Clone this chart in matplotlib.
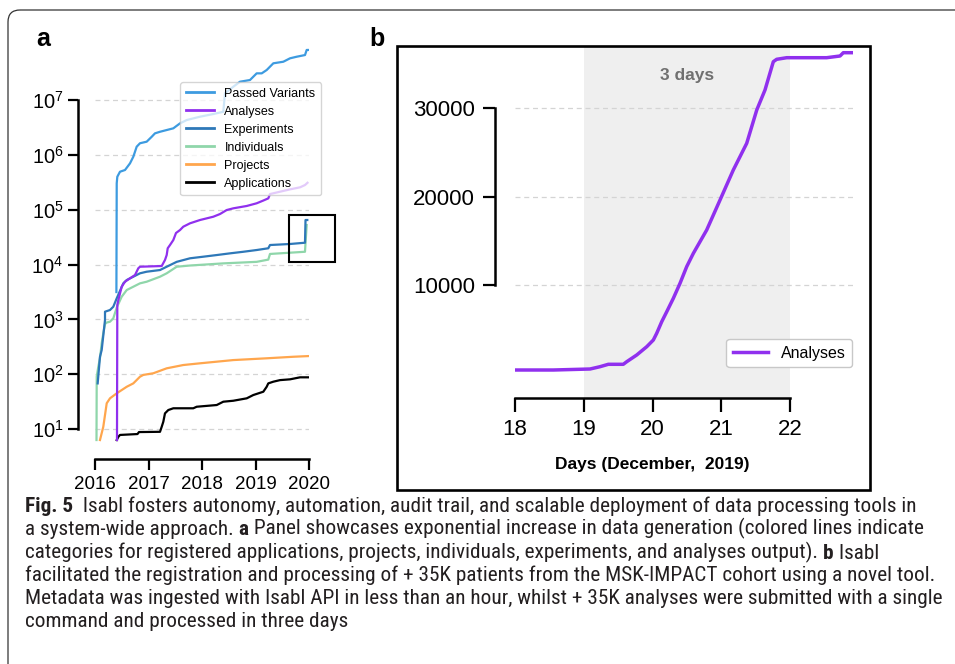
import matplotlib
matplotlib.use('Agg')
import matplotlib.pyplot as plt
import matplotlib.font_manager as fm
from matplotlib.patches import Rectangle, FancyBboxPatch, ConnectionPatch
from matplotlib.ticker import NullLocator

plt.rcParams['font.family'] = ['Liberation Sans', 'DejaVu Sans']
plt.rcParams['mathtext.fontset'] = 'custom'
plt.rcParams['mathtext.rm'] = 'Liberation Sans'
plt.rcParams['mathtext.it'] = 'Liberation Sans:italic'
plt.rcParams['mathtext.bf'] = 'Liberation Sans:bold'

# ---------------- data: panel a ----------------
pv_year = [2016.400, 2016.406, 2016.417, 2016.467, 2016.561, 2016.654, 2016.716, 2016.779,
           2016.841, 2016.966, 2017.060, 2017.121, 2017.215, 2017.340, 2017.464, 2017.589,
           2017.714, 2017.963, 2018.211, 2018.398, 2018.430, 2018.585, 2018.710, 2018.897,
           2019.022, 2019.116, 2019.209, 2019.333, 2019.520, 2019.645, 2019.770, 2019.925,
           2019.957, 2019.987]
pv_val = [3.15e3, 3.03e5, 3.99e5, 4.93e5, 5.3e5, 7.0e5, 9.25e5, 1.41e6, 1.63e6, 1.74e6,
          2.14e6, 2.47e6, 2.64e6, 2.84e6, 3.05e6, 3.76e6, 4.32e6, 4.97e6, 5.56e6, 6.12e6,
          1.33e7, 1.75e7, 2.16e7, 2.32e7, 3.07e7, 3.07e7, 3.53e7, 4.68e7, 5.0e7, 5.77e7,
          6.17e7, 6.62e7, 8.2e7, 8.2e7]

an_year = [2016.411, 2016.417, 2016.436, 2016.499, 2016.561, 2016.654, 2016.748, 2016.809,
           2016.841, 2017.247, 2017.308, 2017.340, 2017.359, 2017.402, 2017.464, 2017.514,
           2017.589, 2017.650, 2017.776, 2017.963, 2018.211, 2018.336, 2018.461, 2018.585,
           2018.836, 2019.022, 2019.146, 2019.239, 2019.271, 2019.458, 2019.645, 2019.832,
           2019.925, 2019.972]
an_val = [6.3, 1830, 2250, 3940, 4860, 5610, 6440, 8540, 9120, 9400, 1.21e4, 1.49e4, 1.98e4,
          2.27e4, 2.80e4, 3.76e4, 4.26e4, 4.9e4, 5.65e4, 6.49e4, 7.45e4, 8.34e4, 9.86e4,
          1.06e5, 1.17e5, 1.31e5, 1.47e5, 1.61e5, 1.93e5, 2.13e5, 2.35e5, 2.56e5, 2.82e5, 3.10e5]

ex_year = [2016.050, 2016.093, 2016.125, 2016.187, 2016.187, 2016.280, 2016.342, 2016.406,
           2016.529, 2016.593, 2016.716, 2016.841, 2016.966, 2017.215, 2017.340, 2017.527,
           2017.776, 2018.024, 2018.275, 2018.523, 2018.772, 2019.022, 2019.239, 2019.271,
           2019.645, 2019.925, 2019.935, 2019.968]
ex_val = [68, 208, 276, 973, 1380, 1480, 1700, 2420, 4540, 5220, 6000, 6920, 7400, 7940, 9120,
          1.12e4, 1.30e4, 1.39e4, 1.49e4, 1.60e4, 1.71e4, 1.84e4, 1.98e4, 2.27e4, 2.37e4,
          2.50e4, 6.49e4, 6.49e4]

in_year = [2016.028, 2016.032, 2016.062, 2016.093, 2016.125, 2016.155, 2016.187, 2016.219,
           2016.280, 2016.342, 2016.406, 2016.499, 2016.593, 2016.716, 2016.841, 2016.966,
           2017.215, 2017.340, 2017.527, 2017.776, 2018.398, 2019.022, 2019.239, 2019.271,
           2019.925, 2019.935, 2019.957]
in_val = [6.3, 90, 137, 197, 366, 556, 822, 876, 906, 1045, 1640, 2590, 3430, 3940, 4540, 4860,
          6000, 6920, 9120, 9600, 1.05e4, 1.12e4, 1.23e4, 1.56e4, 1.71e4, 2.47e4, 5.26e4]

pr_year = [2016.093, 2016.155, 2016.219, 2016.280, 2016.406, 2016.593, 2016.716, 2016.841,
           2016.903, 2017.090, 2017.340, 2017.650, 2017.963, 2018.585, 2019.209, 2019.707, 2019.987]
pr_val = [6.3, 11, 29.5, 36.3, 44.8, 59, 68, 90, 97, 104, 128, 147, 158, 181, 195, 208, 214]

ap_year = [2016.406, 2016.436, 2016.467, 2016.794, 2016.822, 2017.215, 2017.247, 2017.277,
           2017.308, 2017.370, 2017.464, 2017.837, 2017.901, 2018.275, 2018.398, 2018.585,
           2018.836, 2018.959, 2019.146, 2019.209, 2019.239, 2019.333, 2019.458, 2019.645,
           2019.832, 2019.987]
ap_val = [6.3, 7.2, 7.8, 8.1, 8.8, 8.9, 11, 13.6, 19.3, 22.2, 23.9, 23.9, 25.5, 27.4, 31.5, 32.8,
          36.3, 41.7, 47.9, 59, 68, 73, 78, 80.6, 87.7, 87.7]

series_labels = ['Passed Variants', 'Analyses', 'Experiments', 'Individuals', 'Projects', 'Applications']
year_ticks = [2016, 2017, 2018, 2019, 2020]
year_labels = ['2016', '2017', '2018', '2019', '2020']
log_ticks = [1e1, 1e2, 1e3, 1e4, 1e5, 1e6, 1e7]

# ---------------- data: panel b ----------------
days = [18.0, 18.557, 19.091, 19.236, 19.357, 19.575, 19.625, 19.770, 19.916, 20.012, 20.061,
        20.134, 20.207, 20.303, 20.400, 20.497, 20.594, 20.788, 20.982, 21.175, 21.370, 21.516,
        21.636, 21.757, 21.806, 21.952, 22.533, 22.727, 22.775, 22.897]
analyses_b = [395, 395, 508, 768, 1040, 1040, 1333, 2090, 3028, 3785, 4542, 5853, 6983, 8497,
              10190, 12070, 13580, 16215, 19605, 22995, 26010, 29774, 32034, 35232, 35503,
              35684, 35684, 35876, 36249, 36249]
day_ticks = [18, 19, 20, 21, 22]
day_labels = ['18', '19', '20', '21', '22']
count_ticks = [10000, 20000, 30000]
count_labels = ['10000', '20000', '30000']
shade_span = (19, 22)

caption_lines = [
    [("Fig. 5", True), ("  Isabl fosters autonomy, automation, audit trail, and scalable deployment of data processing tools in", False)],
    [("a system-wide approach. ", False), ("a", True), (" Panel showcases exponential increase in data generation (colored lines indicate", False)],
    [("categories for registered applications, projects, individuals, experiments, and analyses output). ", False), ("b", True), (" Isabl", False)],
    [("facilitated the registration and processing of + 35K patients from the MSK-IMPACT cohort using a novel tool.", False)],
    [("Metadata was ingested with Isabl API in less than an hour, whilst + 35K analyses were submitted with a single", False)],
    [("command and processed in three days", False)],
]

# ---------------- styles ----------------
C_PV = '#3d9be0'
C_AN = '#9030ee'
C_EX = '#2e78b8'
C_IN = '#8fd6aa'
C_PR = '#ffa64d'
C_AP = '#000000'
GRID = '#d4d4d4'

W, H = 955, 664
fig = plt.figure(figsize=(W / 100, H / 100), dpi=100)


def fr(l, t, r, b):
    return [l / W, 1 - b / H, (r - l) / W, (b - t) / H]


# ---------------- panel a ----------------
ax_a = fig.add_axes(fr(95, 48, 309, 442))
ax_a.set_yscale('log')
ax_a.set_xlim(2016, 2020)
ax_a.set_ylim(5.8, 8.9e7)
lw_a = 1.6
ax_a.plot(pv_year, pv_val, color=C_PV, lw=lw_a, label=series_labels[0], zorder=3)
ax_a.plot(an_year, an_val, color=C_AN, lw=lw_a, label=series_labels[1], zorder=4)
ax_a.plot(in_year, in_val, color=C_IN, lw=lw_a, label=series_labels[3], zorder=3)
ax_a.plot(ex_year, ex_val, color=C_EX, lw=lw_a, label=series_labels[2], zorder=3.5)
ax_a.plot(pr_year, pr_val, color=C_PR, lw=lw_a, label=series_labels[4], zorder=3)
ax_a.plot(ap_year, ap_val, color=C_AP, lw=lw_a, label=series_labels[5], zorder=3)

for s in ['top', 'right']:
    ax_a.spines[s].set_visible(False)
ax_a.spines['left'].set_position(('outward', 12.2))
ax_a.spines['bottom'].set_position(('outward', 12.2))
ax_a.spines['left'].set_bounds(1e1, 1e7)
ax_a.spines['bottom'].set_bounds(2016, 2020)
for s in ['left', 'bottom']:
    ax_a.spines[s].set_linewidth(1.8)
ax_a.set_yticks(log_ticks)
ax_a.yaxis.set_minor_locator(NullLocator())
ax_a.set_xticks(year_ticks)
ax_a.set_xticklabels(year_labels)
ax_a.tick_params(axis='y', length=7, width=1.6, labelsize=14.5, pad=3.5)
ax_a.tick_params(axis='x', length=8, width=1.6, labelsize=13.5, pad=4)
ax_a.grid(axis='y', which='major', ls=(0, (4, 3)), color=GRID, lw=0.9)
ax_a.set_axisbelow(True)

handles, labels = ax_a.get_legend_handles_labels()
order = [labels.index(l) for l in series_labels]
leg_a = ax_a.legend([handles[i] for i in order], [labels[i] for i in order],
                    loc='upper left', bbox_to_anchor=(180 / W, 1 - 82 / H),
                    bbox_transform=fig.transFigure, borderaxespad=0, fontsize=9,
                    handlelength=2.3, labelspacing=0.48, framealpha=0.75,
                    edgecolor='#c8c8c8', fancybox=True, borderpad=0.45, handletextpad=0.8)
leg_a.get_frame().set_linewidth(1.0)
for ln in leg_a.get_lines():
    ln.set_linewidth(2.0)
leg_a.set_zorder(5)

# inset rectangle marking the zoomed region
zx0, zx1, zy0, zy1 = 2019.63, 2020.49, 1.09e4, 8.1e4
ax_a.add_patch(Rectangle((zx0, zy0), zx1 - zx0, zy1 - zy0, fill=False, ec='black',
                         lw=1.5, clip_on=False, zorder=6))

# ---------------- panel b ----------------
ax_b = fig.add_axes(fr(515, 46, 853, 398))
ax_b.set_xlim(18, 22.916)
ax_b.set_ylim(-2768, 37006)
ax_b.axvspan(shade_span[0], shade_span[1], color='#efefef', lw=0, zorder=0)
ax_b.plot(days, analyses_b, color=C_AN, lw=2.5, label='Analyses', zorder=3)
for s in ['top', 'right']:
    ax_b.spines[s].set_visible(False)
ax_b.spines['left'].set_position(('outward', 14.4))
ax_b.spines['left'].set_bounds(10000, 30000)
ax_b.spines['bottom'].set_bounds(18, 22)
for s in ['left', 'bottom']:
    ax_b.spines[s].set_linewidth(1.8)
ax_b.set_yticks(count_ticks)
ax_b.set_yticklabels(count_labels)
ax_b.set_xticks(day_ticks)
ax_b.set_xticklabels(day_labels)
ax_b.tick_params(axis='y', length=8.5, width=1.6, labelsize=16, pad=6)
ax_b.tick_params(axis='x', length=10, width=1.6, labelsize=16, pad=5)
ax_b.grid(axis='y', ls=(0, (4, 3)), color=GRID, lw=0.9)
ax_b.set_axisbelow(True)
ax_b.set_xlabel('Days (December,  2019)', fontweight='bold', fontsize=12.5)
ax_b.xaxis.set_label_coords((20 - 18) / (22.916 - 18), (398 - 457) / (398 - 46))
ax_b.text(20.5, 33700, '3 days', ha='center', va='center', fontsize=12.5,
          fontweight='bold', color='#707070')
leg_b = ax_b.legend(loc='lower right', bbox_to_anchor=(852 / W, 1 - 367 / H),
                    bbox_transform=fig.transFigure, borderaxespad=0, fontsize=11.5,
                    handlelength=2.2, edgecolor='#c8c8c8', framealpha=1, borderpad=0.4)
leg_b.get_frame().set_linewidth(1.0)

# ---------------- overlay (pixel coordinates) ----------------
ov = fig.add_axes([0, 0, 1, 1], zorder=10)
ov.set_xlim(0, W)
ov.set_ylim(H, 0)
ov.axis('off')

ov.add_patch(FancyBboxPatch((8, 10), 1200, 900, boxstyle='round,pad=0,rounding_size=12',
                            fill=False, ec='#333333', lw=0.9))
ov.add_patch(Rectangle((397, 46), 870 - 397, 490 - 46, fill=False, ec='black', lw=1.9))
ov.text(36, 46, 'a', fontsize=18, fontweight='bold', va='baseline', ha='left')
ov.text(369, 46, 'b', fontsize=18, fontweight='bold', va='baseline', ha='left')

for xyA, xyB in [((zx1, zy1), (397, 70)), ((zx1, zy0), (397, 470))]:
    con = ConnectionPatch(xyA=xyA, coordsA='data', axesA=ax_a, xyB=xyB, coordsB='data',
                          axesB=ov, color='black', lw=1.3, ls=(0, (5, 4)))
    fig.add_artist(con)

# ---------------- caption ----------------
def pick_font(bold):
    target = 700 if bold else 400
    wmap = {'ultralight': 200, 'light': 300, 'normal': 400, 'regular': 400, 'book': 400,
            'medium': 500, 'roman': 400, 'semibold': 600, 'demibold': 600, 'demi': 600,
            'bold': 700, 'heavy': 800, 'extra bold': 800, 'black': 900}
    cond = ('condensed', 'semi-condensed', 'extra-condensed', 'ultra-condensed')
    prefs = ['Liberation Sans Narrow', 'Noto Sans', 'Open Sans', 'Roboto', 'Roboto Condensed',
             'Open Sans Condensed', 'DejaVu Sans', 'Lato', 'Inter']
    best = None
    for f in fm.fontManager.ttflist:
        if f.style != 'normal':
            continue
        name = f.name
        w = f.weight if isinstance(f.weight, (int, float)) else wmap.get(str(f.weight).lower(), 400)
        if w != target:
            continue
        iscond = ('narrow' in name.lower() or 'condensed' in name.lower()
                  or str(f.stretch).lower() in cond)
        if not iscond:
            continue
        rank = prefs.index(name) if name in prefs else len(prefs)
        st = str(f.stretch).lower()
        srank = 0 if st in ('condensed', 'normal') else 1
        key = (rank, srank)
        if best is None or key < best[0]:
            best = (key, f.fname)
    if best is None:
        return fm.FontProperties(family=['Liberation Sans', 'DejaVu Sans'],
                                 weight='bold' if bold else 'normal')
    return fm.FontProperties(fname=best[1])


reg_fp = pick_font(False)
bold_fp = pick_font(True)

renderer = fig.canvas.get_renderer()
probe_fp = reg_fp.copy()
probe_fp.set_size(10)
probe = ov.text(0, 0, caption_lines[4][0][0], fontproperties=probe_fp)
wpx = probe.get_window_extent(renderer).width
probe.remove()
cap_fs = min(17.0, 10 * 914 / wpx)
reg_fp.set_size(cap_fs)
bold_fp.set_size(cap_fs)

baselines = [512, 535, 558, 581, 604, 627]
for yb, segs in zip(baselines, caption_lines):
    prev = None
    for s, bold in segs:
        fp = bold_fp if bold else reg_fp
        if prev is None:
            prev = ov.text(25, yb, s, fontproperties=fp, va='baseline', ha='left', color='#231f20')
        else:
            prev = ov.annotate(s, xy=(1, 0), xycoords=prev, va='bottom', ha='left',
                               fontproperties=fp, color='#231f20')

fig.savefig('out.png', dpi=100)
